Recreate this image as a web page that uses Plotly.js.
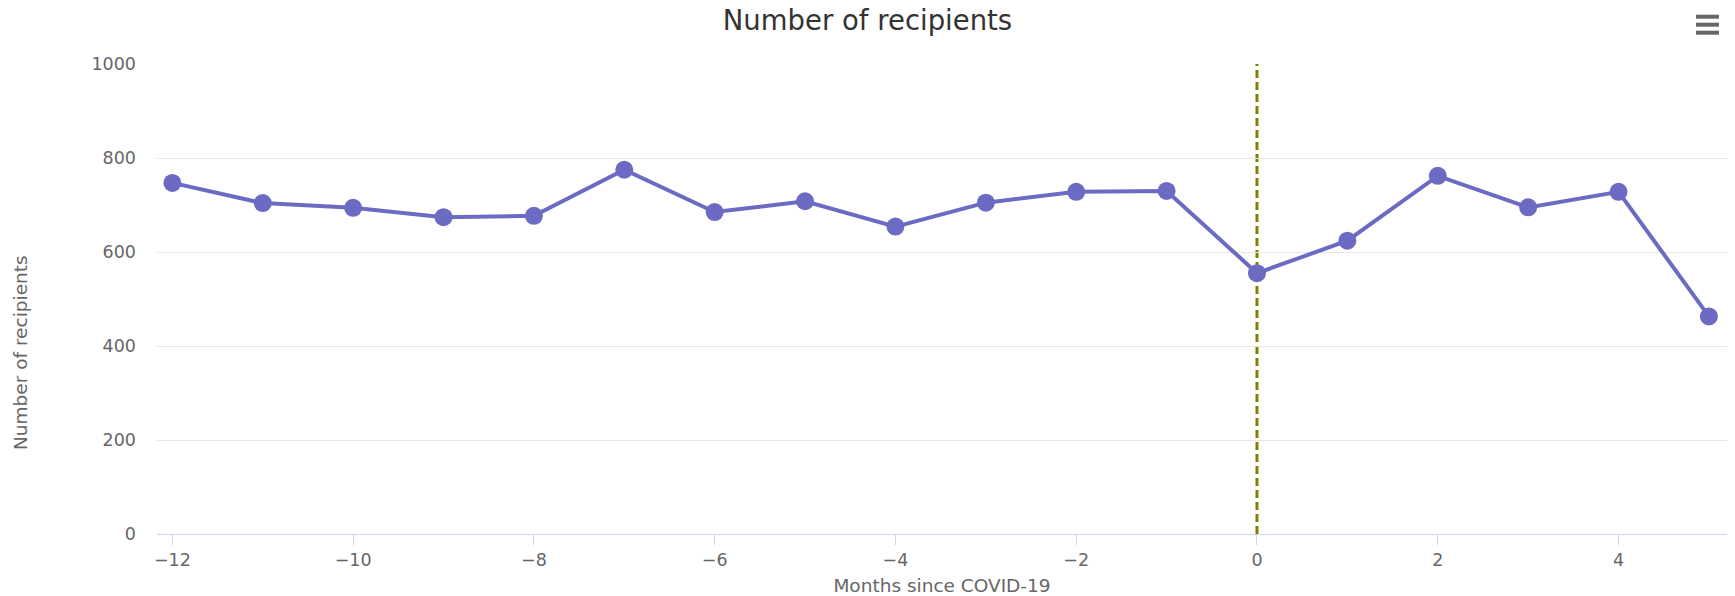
<!DOCTYPE html>
<html>
<head>
<meta charset="utf-8">
<script src="https://cdn.plot.ly/plotly-3.0.1.min.js"></script>
<style>
  html, body { margin: 0; padding: 0; background: #ffffff; }
  #chart { width: 1735px; height: 596px; }
</style>
</head>
<body>
<div id="chart"></div>
<script>
// Data
const months = [-12, -11, -10, -9, -8, -7, -6, -5, -4, -3, -2, -1, 0, 1, 2, 3, 4, 5];
const recipients = [747, 704, 694, 674, 677, 775, 685, 708, 654, 705, 728, 730, 555, 624, 762, 695, 728, 463];
const xTickVals = [-12, -10, -8, -6, -4, -2, 0, 2, 4];
const yTickVals = [0, 200, 400, 600, 800, 1000];
const covidMonth = 0;

const chartTitle = 'Number of recipients';
const xTitle = 'Months since COVID-19';
const yTitle = 'Number of recipients';

const FONT = 'DejaVu Sans, Liberation Sans, sans-serif';

const trace = {
  type: 'scatter',
  mode: 'lines+markers',
  x: months,
  y: recipients,
  line: { color: '#6b6bc3', width: 4 },
  marker: { color: '#6b6bc3', size: 18 },
  hoverinfo: 'x+y',
  showlegend: false
};

const plotL = 157, plotR = 1727, plotT = 64, plotB = 534;
const W = 1735, H = 596;
const pw = plotR - plotL, ph = plotB - plotT;
function px2paperX(px) { return (px - plotL) / pw; }
function px2paperY(py) { return (plotB - py) / ph; }

const menuShapes = [16.7, 24.7, 32.7].map(function (yy) {
  return {
    type: 'line', xref: 'paper', yref: 'paper',
    x0: px2paperX(1696), x1: px2paperX(1719),
    y0: px2paperY(yy), y1: px2paperY(yy),
    line: { color: '#666666', width: 4 }
  };
});

const layout = {
  width: W,
  height: H,
  margin: { l: plotL, r: W - plotR, t: plotT, b: H - plotB, pad: 0 },
  paper_bgcolor: '#ffffff',
  plot_bgcolor: '#ffffff',
  font: { family: FONT, color: '#666666', size: 17.5 },
  title: {
    text: chartTitle,
    font: { family: FONT, size: 27.5, color: '#333333' },
    x: 0.5, xanchor: 'center',
    xref: 'container', yref: 'container',
    y: 1 - 20 / H, yanchor: 'middle'
  },
  xaxis: {
    range: [-12.17, 5.2],
    tickvals: xTickVals,
    ticks: 'outside',
    ticklen: 10,
    tickwidth: 1,
    tickcolor: '#ccd6eb',
    showline: true,
    linecolor: '#ccd6eb',
    linewidth: 1,
    showgrid: false,
    zeroline: false,
    tickfont: { family: FONT, size: 17.5, color: '#666666' },
    title: {
      text: xTitle,
      font: { family: FONT, size: 18.5, color: '#666666' },
      standoff: 12
    },
    fixedrange: true
  },
  yaxis: {
    range: [0, 1000],
    tickvals: yTickVals,
    showgrid: true,
    gridcolor: '#e6e6e6',
    gridwidth: 1,
    zeroline: false,
    showline: false,
    ticks: '',
    ticklabelstandoff: 20,
    tickfont: { family: FONT, size: 17.5, color: '#666666' },
    fixedrange: true
  },
  shapes: [
    {
      type: 'line', xref: 'x', yref: 'paper',
      x0: covidMonth, x1: covidMonth, y0: 0, y1: 1,
      line: { color: '#808000', width: 3, dash: '8px,4px' },
      layer: 'below'
    }
  ].concat(menuShapes),
  annotations: [
    {
      text: yTitle,
      xref: 'paper', yref: 'paper',
      x: px2paperX(20), y: px2paperY(353),
      xanchor: 'center', yanchor: 'middle',
      textangle: -90,
      showarrow: false,
      font: { family: FONT, size: 18.5, color: '#666666' }
    }
  ]
};

Plotly.newPlot('chart', [trace], layout, { displayModeBar: false, responsive: false });
</script>
</body>
</html>
